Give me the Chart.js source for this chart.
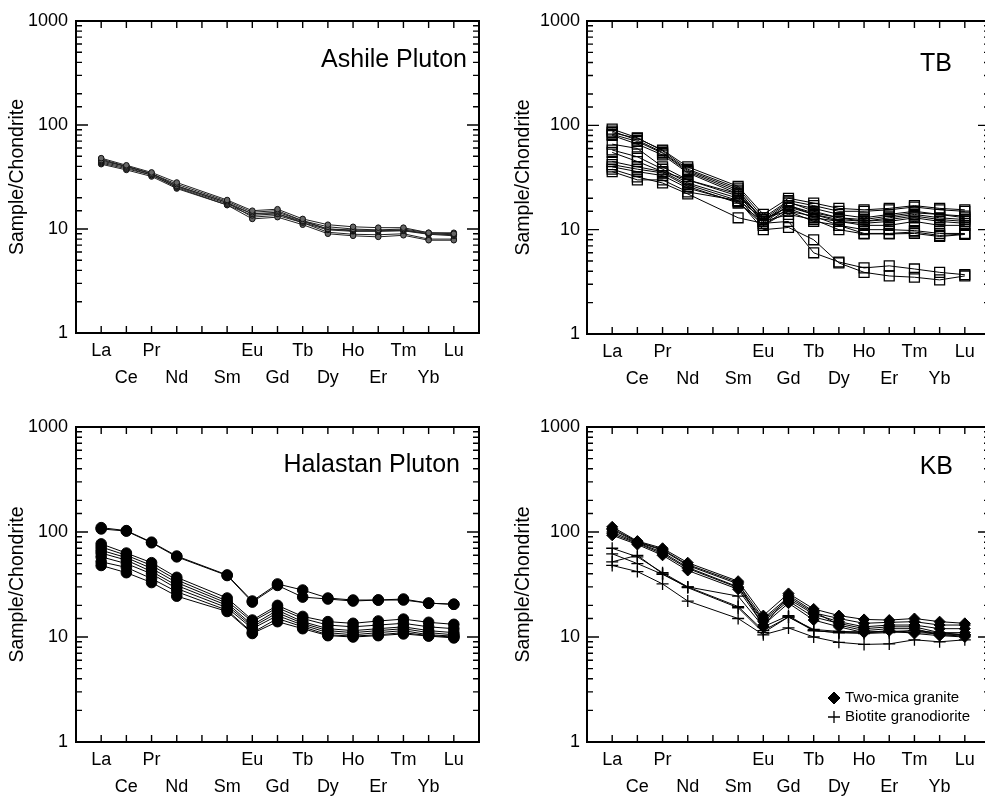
<!DOCTYPE html>
<html>
<head>
<meta charset="utf-8">
<script src="https://cdn.jsdelivr.net/npm/chart.js@4.4.1/dist/chart.umd.min.js"></script>
<style>
html, body { margin: 0; padding: 0; background: #fff; overflow: hidden; width: 985px; height: 796px; }
canvas { position: absolute; }
</style>
</head>
<body>
<canvas id="ashile" width="495" height="400" style="left:0;top:0"></canvas>
<canvas id="tb" width="510" height="400" style="left:495px;top:0"></canvas>
<canvas id="halastan" width="495" height="400" style="left:0;top:400px"></canvas>
<canvas id="kb" width="510" height="400" style="left:495px;top:400px"></canvas>
<script>
// x positions: every REE slot, Pm has no label and no data
const REE = ['La', 'Ce', 'Pr', 'Nd', 'Pm', 'Sm', 'Eu', 'Gd', 'Tb', 'Dy', 'Ho', 'Er', 'Tm', 'Yb', 'Lu'];
const PLOTTED = ['La', 'Ce', 'Pr', 'Nd', 'Sm', 'Eu', 'Gd', 'Tb', 'Dy', 'Ho', 'Er', 'Tm', 'Yb', 'Lu'];
const Y_LABELS = [1, 10, 100, 1000];

// Ashile Pluton
const ashile1 = [48, 41, 35, 28, 19, 15, 15.5, 12.5, 11, 10.5, 10.3, 10.3, 9.2, 9.0];
const ashile2 = [46, 40, 34, 27, 18.5, 14.5, 15, 12, 10.5, 10, 9.8, 10, 9.2, 9.2];
const ashile3 = [45, 40, 34, 26, 18, 14, 14.5, 12, 10, 9.8, 9.7, 9.8, 9.0, 8.9];
const ashile4 = [44, 39, 33, 25.5, 17.5, 14, 14, 11.8, 10, 9.6, 9.6, 9.7, 9.0, 8.8];
const ashile5 = [43, 38, 33, 25, 17, 13.5, 14, 11.5, 9.8, 9.5, 9.5, 9.6, 8.9, 8.6];
const ashile6 = [42, 37, 32, 24.5, 17, 12.5, 13, 11, 9, 8.6, 8.4, 8.7, 7.8, 7.8];
const ashile7 = [47, 40, 34, 26, 18, 13, 13.5, 11.5, 9.3, 8.9, 8.8, 9, 8.0, 8.0];

// TB
const tb1 = [92, 76, 57, 38, 25, 13, 19, 17, 15, 15, 15.5, 16.5, 15.5, 15];
const tb2 = [88, 72, 55, 37, 24, 12, 18, 16, 14, 13, 14, 15, 14, 13.5];
const tb3 = [82, 70, 54, 36, 23, 12.5, 18.5, 15, 13, 12.5, 13.5, 14.5, 14, 13];
const tb4 = [80, 66, 52, 35, 22, 11.5, 17, 14.5, 13, 12, 13, 14, 13, 12.5];
const tb5 = [66, 60, 40, 30, 21, 12, 17, 14, 12.5, 12, 12.5, 13.5, 12.5, 12];
const tb6 = [58, 50, 38, 28, 20, 11, 16, 13, 12, 11.5, 12, 13, 12, 11.5];
const tb7 = [55, 45, 36, 27, 19, 13, 15, 13.5, 11, 9.2, 9.2, 9.5, 8.8, 9.1];
const tb8 = [42, 38, 35, 26, 18, 12, 14, 12.5, 10, 9.1, 9.1, 9.2, 8.6, 9.0];
const tb9 = [40, 36, 33, 25, 18.5, 11, 15, 12, 11, 10, 10, 9.8, 9.2, 9.2];
const tb10 = [38, 32, 28, 22, 13, 11.5, 12, 6, 4.9, 4.3, 4.5, 4.2, 3.9, 3.7];
const tb11 = [36, 30, 30, 23, 19, 10, 10.5, 8, 4.8, 3.9, 3.6, 3.5, 3.3, 3.6];
const tb12 = [85, 75, 58, 40, 26, 14, 20, 18, 16, 15.5, 16, 17, 16, 15.5];
const tb13 = [45, 40, 36, 30, 22, 12.5, 16.5, 14, 12, 11, 11, 12, 11, 11];

// Halastan Pluton
const hal1 = [110, 103, 80, 59, 39, 22, 32, 28, 23.5, 22.5, 22.5, 23, 21, 20.5];
const hal2 = [107, 102, 79, 58, 38.5, 21.5, 31, 24, 23, 22, 22.5, 22.5, 21, 20.5];
const hal3 = [77, 63, 51, 37, 23.5, 14.5, 20, 15.7, 14, 13.5, 14.2, 14.8, 13.8, 13.2];
const hal4 = [72, 60, 48, 35, 22, 14, 19, 15, 13, 12.5, 13, 13.5, 12.5, 12];
const hal5 = [67, 57, 45, 33, 21, 13, 18, 14, 12, 11.5, 12, 12.5, 11.5, 11];
const hal6 = [63, 54, 42, 31, 20, 12.5, 17, 13.5, 11.5, 11, 11.5, 12, 11, 10.5];
const hal7 = [58, 50, 40, 29, 19, 12, 16, 13, 11, 10.5, 11, 11.5, 10.5, 10.2];
const hal8 = [52, 46, 36, 27, 18, 11, 15, 12.5, 10.5, 10.2, 10.5, 11, 10.3, 10];
const hal9 = [48, 41, 33, 24.5, 17.5, 10.8, 14, 12, 10.3, 10, 10.3, 10.7, 10.2, 9.8];

// KB: two-mica granite
const twoMica1 = [112, 82, 70, 51, 34, 16, 26, 18.5, 16, 14.7, 14.5, 15, 14, 13.5];
const twoMica2 = [105, 80, 67, 48, 32, 15, 24, 17, 15, 13.5, 13.8, 14, 13, 13];
const twoMica3 = [100, 79, 64, 46, 30, 14.5, 23, 16.5, 14, 12.5, 13, 13, 12, 12];
const twoMica4 = [96, 78, 62, 45, 29.5, 14, 22, 15.5, 13.5, 12, 12.5, 12.5, 11, 11];
const twoMica5 = [93, 76, 60, 43, 28.5, 13, 21, 14.5, 12.5, 11, 11.5, 10.8, 10.3, 10];
const twoMica6 = [108, 81, 68, 49, 33, 12.5, 25, 17.5, 13, 11.5, 12, 12, 10.5, 10.5];
// KB: biotite granodiorite
const biotite1 = [70, 58, 41, 30, 24.5, 12.5, 16, 11.5, 11, 10.8, 11, 11.5, 10.5, 10.2];
const biotite2 = [62, 50, 39.5, 30, 19.5, 11.5, 15.5, 11.5, 11, 11, 11.2, 11, 10.8, 10.5];
const biotite3 = [52, 60, 40, 29.5, 19, 11, 15.5, 11.8, 11.3, 11.2, 11.3, 11.5, 11, 10.5];
const biotite4 = [48, 42, 32, 22, 15, 10.5, 12.2, 10, 8.9, 8.5, 8.6, 9.4, 9.0, 9.4];

const FONT = '"Liberation Sans", Arial, Helvetica, sans-serif';
Chart.defaults.font.family = FONT;
Chart.defaults.color = '#000';

function toPoints(vals) {
    return vals.map((v, i) => ({x: REE.indexOf(PLOTTED[i]), y: v}));
}

function series(vals, style) {
    return Object.assign({
        data: toPoints(vals),
        borderColor: '#000',
        borderWidth: 1,
        fill: false,
        tension: 0,
    }, style);
}

const isDecade = v => Math.abs(Math.log10(v) - Math.round(Math.log10(v))) < 1e-9;

// frame, inward ticks, panel title and optional legend
const framePlugin = {
    id: 'frame',
    afterDraw(chart, args, opts) {
        const {ctx, chartArea: a, scales: {x, y}} = chart;
        ctx.save();
        ctx.strokeStyle = '#000';
        ctx.lineWidth = 1.4;
        ctx.beginPath();
        REE.forEach((n, i) => {
            const px = x.getPixelForValue(i);
            ctx.moveTo(px, a.top); ctx.lineTo(px, a.top + 7);
            ctx.moveTo(px, a.bottom); ctx.lineTo(px, a.bottom - 7);
        });
        y.ticks.forEach(t => {
            const len = isDecade(t.value) ? 12 : 6;
            const py = y.getPixelForValue(t.value);
            ctx.moveTo(a.left, py); ctx.lineTo(a.left + len, py);
            ctx.moveTo(a.right, py); ctx.lineTo(a.right - len, py);
        });
        ctx.stroke();
        ctx.lineWidth = 2;
        ctx.strokeRect(a.left, a.top, a.right - a.left, a.bottom - a.top);

        ctx.fillStyle = '#000';
        ctx.font = '25px ' + FONT;
        ctx.textAlign = 'right';
        ctx.textBaseline = 'middle';
        ctx.fillText(opts.title, a.right - opts.titleInset, a.top + opts.titleDy);

        if (opts.legend) {
            ctx.font = '15px ' + FONT;
            ctx.textAlign = 'left';
            opts.legend.forEach(item => {
                const ds = chart.data.datasets[item.dataset];
                ctx.fillStyle = ds.pointBackgroundColor;
                ctx.strokeStyle = ds.pointBorderColor;
                ctx.lineWidth = ds.pointBorderWidth;
                Chart.helpers.drawPoint(ctx, {pointStyle: ds.pointStyle, radius: item.radius, borderWidth: ds.pointBorderWidth}, item.x, item.y);
                ctx.fillStyle = '#000';
                ctx.fillText(item.text, item.x + 11, item.y);
            });
        }
        ctx.restore();
    }
};

function makePanel(id, datasets, p) {
    const canvas = document.getElementById(id);
    return new Chart(canvas.getContext('2d'), {
        type: 'line',
        data: {datasets: datasets},
        plugins: [framePlugin],
        options: {
            responsive: false,
            animation: false,
            layout: {padding: {left: 0, top: p.top, right: canvas.width - p.right, bottom: 0}},
            plugins: {
                legend: {display: false},
                tooltip: {enabled: false},
                frame: {title: p.title, titleInset: p.titleInset, titleDy: p.titleDy, legend: p.legend},
            },
            scales: {
                x: {
                    type: 'linear',
                    min: -1,
                    max: 15,
                    grid: {display: false, drawTicks: false},
                    border: {display: false},
                    afterBuildTicks: s => { s.ticks = REE.map((n, i) => ({value: i})); },
                    afterFit: s => {
                        s.height = canvas.height - p.bottom;
                        s.paddingLeft = 0; s.paddingRight = 0;
                    },
                    ticks: {
                        autoSkip: false,
                        maxRotation: 0,
                        padding: 5,
                        font: {size: 18, lineHeight: 1.48},
                        color: '#000',
                        callback: v => {
                            const n = REE[v];
                            if (!n || n === 'Pm') return '';
                            return v % 2 === 0 ? n : ['', n];
                        }
                    }
                },
                y: {
                    type: 'logarithmic',
                    min: 1,
                    max: 1000,
                    grid: {display: false, drawTicks: false},
                    border: {display: false},
                    afterFit: s => {
                        s.width = p.left;
                        s.paddingTop = 0; s.paddingBottom = 0;
                    },
                    ticks: {
                        autoSkip: false,
                        padding: p.tickPad,
                        font: {size: 18},
                        color: '#000',
                        callback: v => Y_LABELS.includes(Math.round(v)) && isDecade(v) ? String(Math.round(v)) : ''
                    },
                    title: {
                        display: true,
                        text: 'Sample/Chondrite',
                        font: {size: 19.5},
                        color: '#000',
                        padding: {top: p.titlePad, bottom: 0}
                    }
                }
            }
        }
    });
}

const ashileStyle = {pointStyle: 'circle', pointRadius: 2.8, pointBackgroundColor: '#666', pointBorderColor: '#111', pointBorderWidth: 1, borderColor: '#222'};
const tbStyle = {pointStyle: 'rect', pointRadius: 7, pointBackgroundColor: 'rgba(255,255,255,0)', pointBorderColor: '#000', pointBorderWidth: 1.3};
const halStyle = {pointStyle: 'circle', pointRadius: 5.3, pointBackgroundColor: '#000', pointBorderColor: '#000', pointBorderWidth: 1};
const twoMicaStyle = {pointStyle: 'rectRot', pointRadius: 5.5, pointBackgroundColor: '#000', pointBorderColor: '#000', pointBorderWidth: 1};
const biotiteStyle = {pointStyle: 'cross', pointRadius: 6, pointBackgroundColor: '#000', pointBorderColor: '#000', pointBorderWidth: 1.3};

makePanel('ashile',
    [ashile1, ashile2, ashile3, ashile4, ashile5, ashile6, ashile7].map(v => series(v, ashileStyle)),
    {left: 76, right: 479, top: 21, bottom: 333, tickPad: 8, titlePad: 6, title: 'Ashile Pluton', titleInset: 12, titleDy: 39});

makePanel('tb',
    [tb1, tb2, tb3, tb4, tb5, tb6, tb7, tb8, tb9, tb10, tb11, tb12, tb13].map(v => series(v, tbStyle)),
    {left: 92, right: 495, top: 21, bottom: 334, tickPad: 7, titlePad: 17, title: 'TB', titleInset: 38, titleDy: 43});

makePanel('halastan',
    [hal1, hal2, hal3, hal4, hal5, hal6, hal7, hal8, hal9].map(v => series(v, halStyle)),
    {left: 76, right: 479, top: 27, bottom: 342, tickPad: 8, titlePad: 6, title: 'Halastan Pluton', titleInset: 19, titleDy: 38});

makePanel('kb',
    [twoMica1, twoMica2, twoMica3, twoMica4, twoMica5, twoMica6].map(v => series(v, twoMicaStyle))
        .concat([biotite1, biotite2, biotite3, biotite4].map(v => series(v, biotiteStyle))),
    {left: 92, right: 495, top: 27, bottom: 342, tickPad: 7, titlePad: 17, title: 'KB', titleInset: 37, titleDy: 40,
     legend: [
        {dataset: 0, text: 'Two-mica granite', x: 339, y: 298, radius: 6},
        {dataset: 6, text: 'Biotite granodiorite', x: 339, y: 317, radius: 6}
     ]});
</script>
</body>
</html>
